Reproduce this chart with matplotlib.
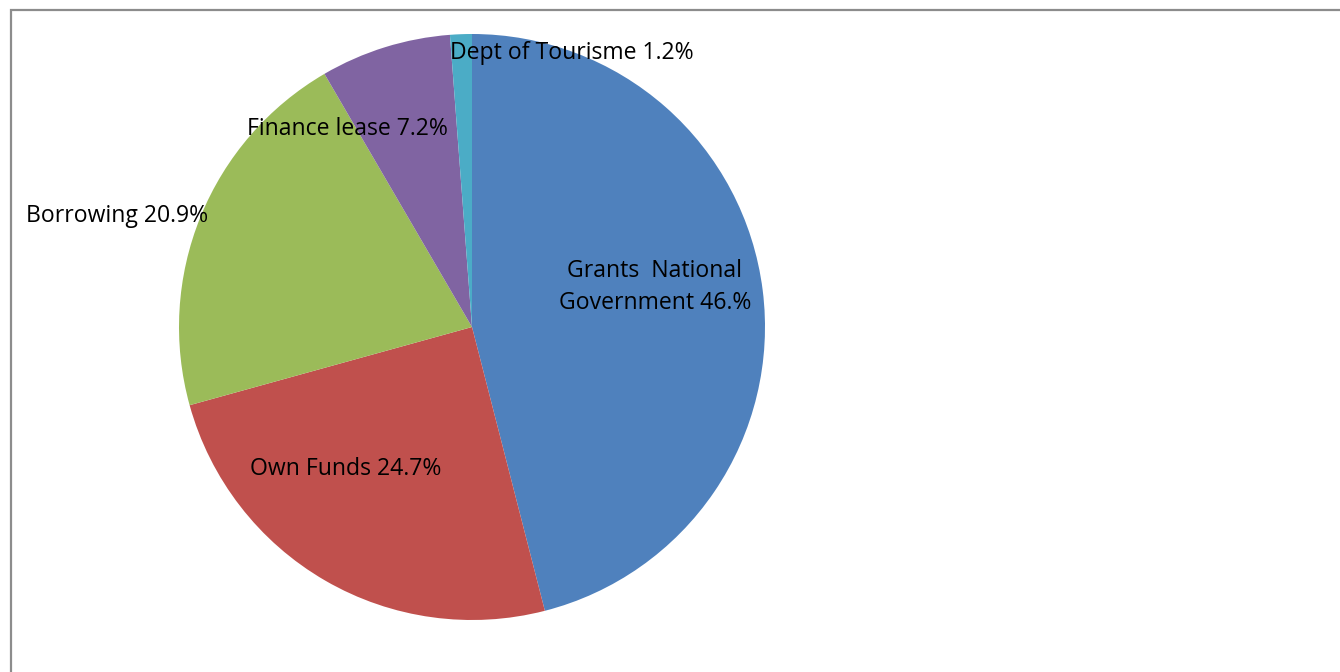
import matplotlib
matplotlib.use("Agg")
import matplotlib.pyplot as plt
from matplotlib.patches import Rectangle

categories = ["Grants  National\nGovernment", "Own Funds", "Borrowing", "Finance lease", "Dept of Tourisme"]
values = [46.0, 24.7, 20.9, 7.2, 1.2]
pct_text = ["46.%", "24.7%", "20.9%", "7.2%", "1.2%"]
colors = ["#4F81BD", "#C0504D", "#9BBB59", "#8064A2", "#4BACC6"]

W, H = 1340, 672
fig = plt.figure(figsize=(W / 100, H / 100), dpi=100)
fig.patch.set_facecolor("white")

# border
fig.patches.append(Rectangle((10.5 / W, -0.1), 1.2, (H - 9.5) / H + 0.1, transform=fig.transFigure,
                             fill=False, edgecolor="#8c8c8c", linewidth=1.6, zorder=0))

cx, cy, r = 472, 327, 293
ax = fig.add_axes([(cx - r) / W, (H - cy - r) / H, 2 * r / W, 2 * r / H])
ax.pie(values, colors=colors, startangle=90, counterclock=False, radius=1,
       wedgeprops=dict(linewidth=0))
ax.set_xlim(-1, 1)
ax.set_ylim(-1, 1)
ax.set_aspect("equal")
ax.axis("off")

label_px = [(655, 287), (346, 469), (117, 216), (347, 129), (572, 53)]
for cat, p, (px, py) in zip(categories, pct_text, label_px):
    x = (px - cx) / r
    y = (cy - py) / r
    ax.text(x, y, f"{cat} {p}", ha="center", va="center", fontsize=16.6,
            family="Open Sans", color="black", linespacing=1.45, clip_on=False)

fig.savefig("out.png", dpi=100)
